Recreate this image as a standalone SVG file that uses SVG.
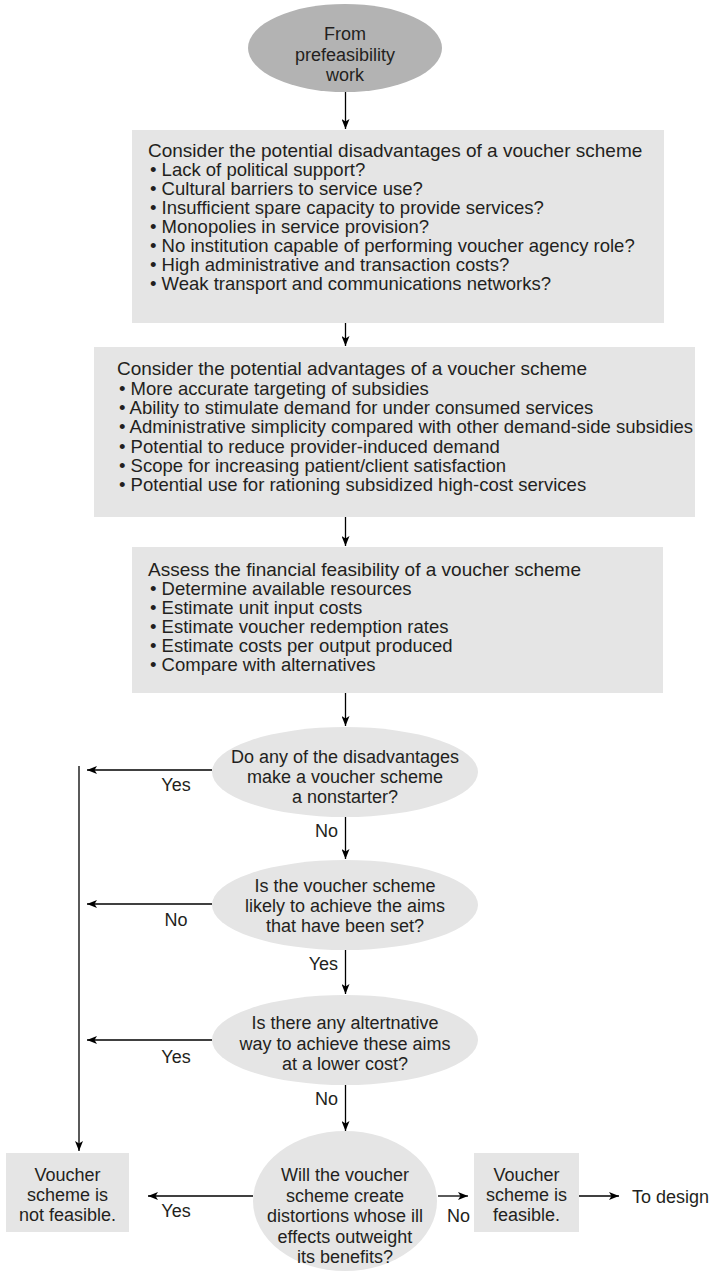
<svg xmlns="http://www.w3.org/2000/svg" width="716" height="1271" viewBox="0 0 716 1271">
<style>
text{font-family:"Liberation Sans",Arial,sans-serif;fill:#231f20;}
.t{font-size:18px;}
.h{font-size:19px;}
.b{font-size:18.5px;}
.c{text-anchor:middle;}
.e{text-anchor:end;}
.box{fill:#e5e5e5;}
.dec{fill:#e5e5e5;}
.start{fill:#b3b3b3;}
.ln{stroke:#000;stroke-width:1.3;fill:none;}
</style>
<defs>
<marker id="ah" viewBox="0 0 10 8" refX="10" refY="4" markerWidth="10" markerHeight="8" markerUnits="userSpaceOnUse" orient="auto">
<path d="M0,0 L10,4 L0,8 L2.5,4 z" fill="#000"/>
</marker>
</defs>
<g id="connectors">
<line class="ln" x1="345.5" y1="92" x2="345.5" y2="129" marker-end="url(#ah)"/>
<line class="ln" x1="345.5" y1="323" x2="345.5" y2="346" marker-end="url(#ah)"/>
<line class="ln" x1="345.5" y1="517" x2="345.5" y2="546" marker-end="url(#ah)"/>
<line class="ln" x1="345.5" y1="693" x2="345.5" y2="726" marker-end="url(#ah)"/>
<line class="ln" x1="345.5" y1="817" x2="345.5" y2="859" marker-end="url(#ah)"/>
<line class="ln" x1="345.5" y1="950" x2="345.5" y2="994" marker-end="url(#ah)"/>
<line class="ln" x1="345.5" y1="1085" x2="345.5" y2="1131" marker-end="url(#ah)"/>
<line class="ln" x1="212" y1="770" x2="87" y2="770" marker-end="url(#ah)"/>
<line class="ln" x1="212" y1="904" x2="87" y2="904" marker-end="url(#ah)"/>
<line class="ln" x1="212" y1="1040" x2="87" y2="1040" marker-end="url(#ah)"/>
<line class="ln" x1="79" y1="766" x2="79" y2="1151" marker-end="url(#ah)"/>
<line class="ln" x1="253" y1="1196" x2="148" y2="1196" marker-end="url(#ah)"/>
<line class="ln" x1="438" y1="1196" x2="468" y2="1196" marker-end="url(#ah)"/>
<line class="ln" x1="579" y1="1196" x2="619" y2="1196" marker-end="url(#ah)"/>
<text class="t c" x="176" y="791">Yes</text>
<text class="t c" x="176" y="926">No</text>
<text class="t c" x="176" y="1063">Yes</text>
<text class="t c" x="176" y="1217">Yes</text>
<text class="t e" x="338" y="837">No</text>
<text class="t e" x="338" y="970">Yes</text>
<text class="t e" x="338" y="1105">No</text>
<text class="t" x="447" y="1222">No</text>
</g>
<g id="start">
<ellipse class="start" cx="345" cy="48" rx="97" ry="44"/>
<text class="t c" x="345" y="40">From</text>
<text class="t c" x="345" y="61">prefeasibility</text>
<text class="t c" x="345" y="81">work</text>
</g>
<g id="disadvantages">
<rect class="box" x="132" y="130" width="532" height="193"/>
<text class="h" x="148" y="157">Consider the potential disadvantages of a voucher scheme</text>
<text class="b" x="150" y="176">• Lack of political support?</text>
<text class="b" x="150" y="195">• Cultural barriers to service use?</text>
<text class="b" x="150" y="214">• Insufficient spare capacity to provide services?</text>
<text class="b" x="150" y="233">• Monopolies in service provision?</text>
<text class="b" x="150" y="252">• No institution capable of performing voucher agency role?</text>
<text class="b" x="150" y="271">• High administrative and transaction costs?</text>
<text class="b" x="150" y="290">• Weak transport and communications networks?</text>
</g>
<g id="advantages">
<rect class="box" x="94" y="347" width="601" height="170"/>
<text class="h" x="117" y="375">Consider the potential advantages of a voucher scheme</text>
<text class="b" x="119" y="394.5">• More accurate targeting of subsidies</text>
<text class="b" x="119" y="414">• Ability to stimulate demand for under consumed services</text>
<text class="b" x="119" y="433">• Administrative simplicity compared with other demand-side subsidies</text>
<text class="b" x="119" y="452.5">• Potential to reduce provider-induced demand</text>
<text class="b" x="119" y="472">• Scope for increasing patient/client satisfaction</text>
<text class="b" x="119" y="491">• Potential use for rationing subsidized high-cost services</text>
</g>
<g id="financial">
<rect class="box" x="132" y="547" width="531" height="146"/>
<text class="h" x="148" y="576">Assess the financial feasibility of a voucher scheme</text>
<text class="b" x="150" y="595">• Determine available resources</text>
<text class="b" x="150" y="614">• Estimate unit input costs</text>
<text class="b" x="150" y="633">• Estimate voucher redemption rates</text>
<text class="b" x="150" y="652">• Estimate costs per output produced</text>
<text class="b" x="150" y="671">• Compare with alternatives</text>
</g>
<g id="q1">
<ellipse class="dec" cx="345" cy="772" rx="133" ry="45"/>
<text class="t c" x="345" y="763">Do any of the disadvantages</text>
<text class="t c" x="345" y="783">make a voucher scheme</text>
<text class="t c" x="345" y="803">a nonstarter?</text>
</g>
<g id="q2">
<ellipse class="dec" cx="345" cy="905" rx="133" ry="45"/>
<text class="t c" x="345" y="892">Is the voucher scheme</text>
<text class="t c" x="345" y="912">likely to achieve the aims</text>
<text class="t c" x="345" y="932">that have been set?</text>
</g>
<g id="q3">
<ellipse class="dec" cx="345" cy="1040" rx="133" ry="45"/>
<text class="t c" x="345" y="1029">Is there any altertnative</text>
<text class="t c" x="345" y="1050">way to achieve these aims</text>
<text class="t c" x="345" y="1070">at a lower cost?</text>
</g>
<g id="q4">
<ellipse class="dec" cx="345" cy="1201" rx="92" ry="70"/>
<text class="t c" x="345" y="1181">Will the voucher</text>
<text class="t c" x="345" y="1202">scheme create</text>
<text class="t c" x="345" y="1222">distortions whose ill</text>
<text class="t c" x="345" y="1243">effects outweight</text>
<text class="t c" x="345" y="1263">its benefits?</text>
</g>
<g id="notfeasible">
<rect class="box" x="6" y="1153" width="123" height="79"/>
<text class="t c" x="67.5" y="1181">Voucher</text>
<text class="t c" x="67.5" y="1201">scheme is</text>
<text class="t c" x="67.5" y="1221">not feasible.</text>
</g>
<g id="feasible">
<rect class="box" x="474" y="1153" width="105" height="79"/>
<text class="t c" x="526.5" y="1181">Voucher</text>
<text class="t c" x="526.5" y="1201">scheme is</text>
<text class="t c" x="526.5" y="1221">feasible.</text>
</g>
<g id="todesign">
<text class="t" x="632" y="1203">To design</text>
</g>
</svg>
